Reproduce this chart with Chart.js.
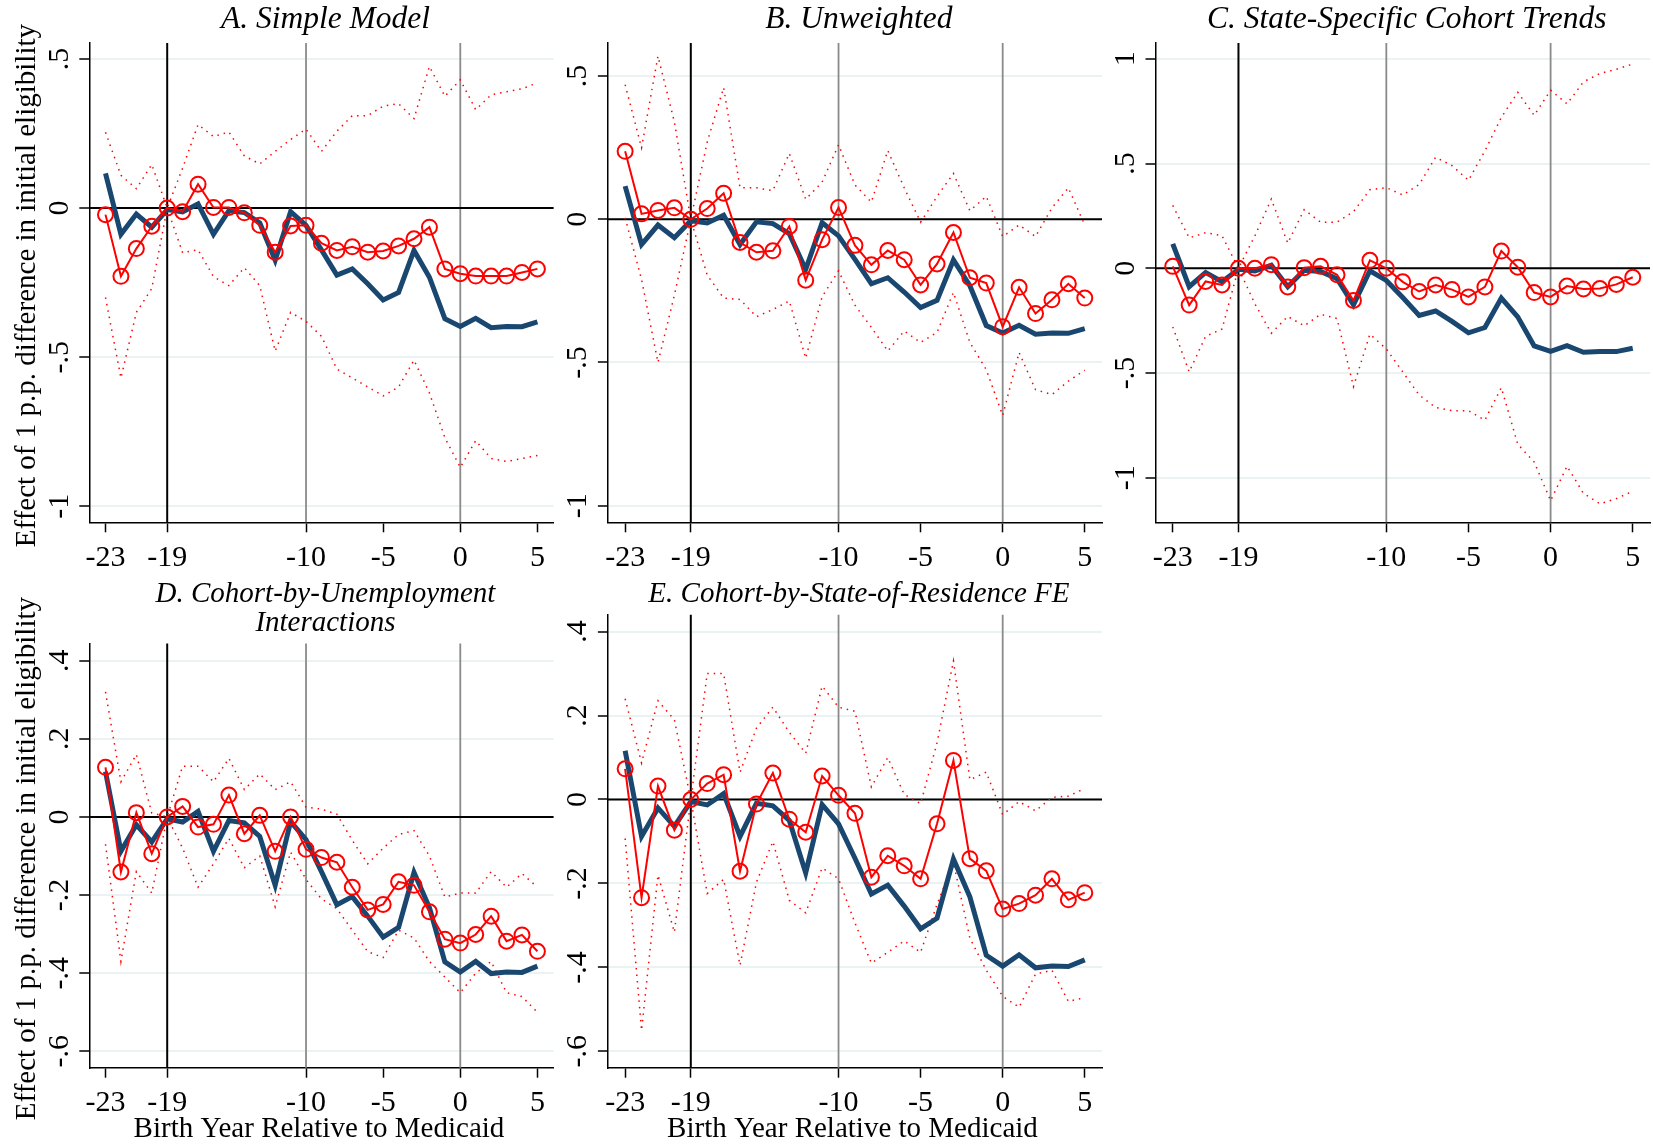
<!DOCTYPE html>
<html>
<head>
<meta charset="utf-8">
<script src="https://cdn.jsdelivr.net/npm/chart.js@4.4.1/dist/chart.umd.min.js"></script>
<style>
  body { margin: 0; background: #fff; }
  #page { position: relative; width: 1653px; height: 1146px; overflow: hidden; background: #fff; }
  #page canvas { position: absolute; }
</style>
</head>
<body>
<div id="page"></div>
<script>
// birth year relative to Medicaid
const years = [-23, -22, -21, -20, -19, -18, -17, -16, -15, -14, -13, -12, -11, -10, -9,
  -8, -7, -6, -5, -4, -3, -2, -1, 0, 1, 2, 3, 4, 5];
const xTickVals = [-23, -19, -10, -5, 0, 5];

// simple model estimates, shown in every panel (navy line)
const simpleModel = [0.116, -0.088, -0.02, -0.064, -0.005, -0.013, 0.014, -0.088, -0.009, -0.015,
  -0.05, -0.175, -0.012, -0.058, -0.14, -0.225, -0.204, -0.254, -0.308, -0.283, -0.142, -0.232,
  -0.371, -0.397, -0.37, -0.401, -0.397, -0.398, -0.382];

// A. Simple Model
const estA = [-0.022, -0.229, -0.136, -0.061, 0, -0.012, 0.08, 0.002, 0.002, -0.016, -0.058,
  -0.148, -0.06, -0.058, -0.118, -0.142, -0.13, -0.148, -0.144, -0.127, -0.103, -0.064, -0.204,
  -0.22, -0.228, -0.228, -0.228, -0.216, -0.204];
const hiA = [0.254, 0.11, 0.065, 0.146, 0, 0.134, 0.28, 0.24, 0.255, 0.175, 0.148, 0.19, 0.23,
  0.265, 0.19, 0.258, 0.31, 0.31, 0.342, 0.35, 0.3, 0.475, 0.375, 0.43, 0.33, 0.38, 0.39, 0.4, 0.42];
const loA = [-0.3, -0.57, -0.35, -0.27, 0, -0.15, -0.14, -0.23, -0.26, -0.2, -0.26, -0.48, -0.35,
  -0.38, -0.43, -0.54, -0.57, -0.6, -0.63, -0.6, -0.51, -0.62, -0.77, -0.87, -0.78, -0.84, -0.85,
  -0.84, -0.83];

// B. Unweighted
const estB = [0.2375, 0.019, 0.031, 0.04, 0, 0.0375, 0.091, -0.081, -0.115, -0.11, -0.025,
  -0.2125, -0.071, 0.041, -0.091, -0.159, -0.109, -0.141, -0.229, -0.156, -0.046, -0.204,
  -0.2225, -0.375, -0.2375, -0.329, -0.281, -0.225, -0.275];
const hiB = [0.47, 0.25, 0.57, 0.34, 0, 0.27, 0.46, 0.11, 0.11, 0.1, 0.23, 0.07, 0.13, 0.26, 0.12,
  0.06, 0.24, 0.11, -0.01, 0.08, 0.16, 0.03, 0.08, -0.06, -0.02, -0.06, 0.04, 0.11, -0.02];
const loB = [0.005, -0.21, -0.5, -0.265, 0, -0.195, -0.275, -0.28, -0.34, -0.315, -0.285, -0.485,
  -0.27, -0.18, -0.3, -0.377, -0.46, -0.39, -0.43, -0.395, -0.255, -0.43, -0.525, -0.685, -0.465,
  -0.595, -0.612, -0.565, -0.527];

// C. State-Specific Cohort Trends
const estC = [0.009, -0.176, -0.063, -0.08, 0, 0, 0.017, -0.089, 0.003, 0.009, -0.031, -0.154,
  0.038, 0, -0.065, -0.111, -0.08, -0.102, -0.137, -0.089, 0.082, 0.005, -0.116, -0.137, -0.085,
  -0.099, -0.097, -0.077, -0.043];
const hiC = [0.3, 0.145, 0.17, 0.155, 0, 0.155, 0.33, 0.12, 0.28, 0.22, 0.22, 0.27, 0.375, 0.385,
  0.35, 0.4, 0.53, 0.49, 0.42, 0.56, 0.72, 0.84, 0.73, 0.85, 0.785, 0.89, 0.93, 0.95, 0.975];
const loC = [-0.28, -0.495, -0.325, -0.29, 0, -0.17, -0.31, -0.23, -0.275, -0.22, -0.24, -0.565,
  -0.315, -0.385, -0.495, -0.605, -0.665, -0.68, -0.68, -0.725, -0.57, -0.84, -0.925, -1.11,
  -0.945, -1.075, -1.125, -1.1, -1.065];

// D. Cohort-by-Unemployment Interactions
const estD = [0.127, -0.141, 0.011, -0.094, 0, 0.027, -0.026, -0.019, 0.056, -0.043, 0.004,
  -0.088, 0, -0.083, -0.104, -0.116, -0.18, -0.238, -0.224, -0.166, -0.175, -0.243, -0.313,
  -0.323, -0.301, -0.254, -0.318, -0.302, -0.344];
const hiD = [0.32, 0.09, 0.16, 0.01, 0, 0.13, 0.13, 0.09, 0.15, 0.07, 0.11, 0.07, 0.09, 0.025,
  0.02, 0.007, -0.06, -0.12, -0.08, -0.045, -0.035, -0.1, -0.205, -0.195, -0.195, -0.14, -0.18,
  -0.145, -0.18];
const loD = [-0.07, -0.37, -0.14, -0.195, 0, -0.08, -0.18, -0.12, -0.055, -0.13, -0.1, -0.23,
  -0.09, -0.16, -0.21, -0.235, -0.29, -0.345, -0.36, -0.29, -0.31, -0.37, -0.41, -0.45, -0.4,
  -0.37, -0.45, -0.46, -0.5];

// E. Cohort-by-State-of-Residence FE
const estE = [0.073, -0.234, 0.032, -0.073, 0, 0.038, 0.059, -0.171, -0.011, 0.063, -0.047,
  -0.078, 0.056, 0.01, -0.033, -0.185, -0.134, -0.158, -0.189, -0.058, 0.093, -0.141, -0.17,
  -0.261, -0.248, -0.228, -0.189, -0.239, -0.222];
const hiE = [0.24, 0.087, 0.235, 0.19, 0, 0.3, 0.3, 0.065, 0.17, 0.22, 0.16, 0.11, 0.27, 0.22,
  0.21, 0.03, 0.1, 0.012, -0.01, 0.135, 0.33, 0.047, 0.065, -0.036, -0.005, -0.027, 0.005, 0.008,
  0.026];
const loE = [-0.093, -0.55, -0.18, -0.316, 0, -0.224, -0.19, -0.395, -0.197, -0.1, -0.24, -0.27,
  -0.163, -0.189, -0.294, -0.39, -0.364, -0.337, -0.364, -0.25, -0.15, -0.33, -0.407, -0.469,
  -0.495, -0.416, -0.407, -0.481, -0.472];

const yTitleText = "Effect of 1 p.p. difference in initial eligibility";
const xTitleText = "Birth Year Relative to Medicaid";

const SERIF = '"Liberation Serif", "Times New Roman", serif';
const NAVY = "#1a476f";
const RED = "#ff0000";

// box = canvas [left, top, w, h], plot = [left, top, right, bottom] in page pixels
const panels = [
  { title: ["A. Simple Model"], est: estA, hi: hiA, lo: loA,
    yTicks: [0.5, 0, -0.5, -1], yMin: -1.054, yMax: 0.554,
    box: [0, 0, 556, 580], plot: [89.3, 42.9, 553.6, 522.3], titleY: [28.3], titleSize: 31.5,
    yTitle: true, xTitle: false },
  { title: ["B. Unweighted"], est: estB, hi: hiB, lo: loB,
    yTicks: [0.5, 0, -0.5, -1], yMin: -1.058, yMax: 0.616,
    box: [556, 0, 548, 580], plot: [607.9, 42.9, 1102, 522.3], titleY: [28.3], titleSize: 31.5,
    yTitle: false, xTitle: false },
  { title: ["C. State-Specific Cohort Trends"], est: estC, hi: hiC, lo: loC,
    yTicks: [1, 0.5, 0, -0.5, -1], yMin: -1.213, yMax: 1.076,
    box: [1104, 0, 549, 580], plot: [1155.5, 42.9, 1650, 522.3], titleY: [28.3], titleSize: 31.5,
    yTitle: false, xTitle: false },
  { title: ["D. Cohort-by-Unemployment", "Interactions"], est: estD, hi: hiD, lo: loD,
    yTicks: [0.4, 0.2, 0, -0.2, -0.4, -0.6], yMin: -0.642, yMax: 0.444,
    box: [0, 575, 556, 571], plot: [89.3, 643.5, 553.6, 1067.7], titleY: [602, 631], titleSize: 29,
    yTitle: true, xTitle: true },
  { title: ["E. Cohort-by-State-of-Residence FE"], est: estE, hi: hiE, lo: loE,
    yTicks: [0.4, 0.2, 0, -0.2, -0.4, -0.6], yMin: -0.639, yMax: 0.44,
    box: [556, 575, 548, 571], plot: [607.9, 614.8, 1102, 1067.7], titleY: [602], titleSize: 29,
    yTitle: false, xTitle: true },
];

function fmt(v) {
  return v === 0 ? "0" : String(v).replace("0.", ".");
}

function pts(vals) {
  return years.map((x, i) => ({ x: x, y: vals[i] }));
}

const refLines = {
  id: "refLines",
  beforeDatasetsDraw(chart) {
    const ctx = chart.ctx, ca = chart.chartArea;
    const xs = chart.scales.x, ys = chart.scales.y;
    ctx.save();
    const vline = (v, color, w) => {
      const x = xs.getPixelForValue(v);
      ctx.strokeStyle = color;
      ctx.lineWidth = w;
      ctx.beginPath();
      ctx.moveTo(x, ca.top);
      ctx.lineTo(x, ca.bottom);
      ctx.stroke();
    };
    vline(-19, "#000", 2);
    vline(-10, "#8a8a8a", 1.8);
    vline(0, "#8a8a8a", 1.8);
    const y0 = ys.getPixelForValue(0);
    ctx.strokeStyle = "#000";
    ctx.lineWidth = 2;
    ctx.beginPath();
    ctx.moveTo(ca.left, y0);
    ctx.lineTo(ca.right, y0);
    ctx.stroke();
    ctx.restore();
  },
};

function textPlugin(p) {
  return {
    id: "texts",
    afterDraw(chart) {
      const ctx = chart.ctx, ca = chart.chartArea;
      const xs = chart.scales.x, ys = chart.scales.y;
      const [bx, by] = p.box;
      ctx.save();
      ctx.fillStyle = "#000";
      ctx.textBaseline = "alphabetic";
      ctx.textAlign = "center";

      ctx.font = "30px " + SERIF;
      xTickVals.forEach((v) => {
        ctx.fillText(String(v), xs.getPixelForValue(v), ca.bottom + 43.5);
      });
      p.yTicks.forEach((v) => {
        ctx.save();
        ctx.translate(ca.left - 21.5, ys.getPixelForValue(v));
        ctx.rotate(-Math.PI / 2);
        ctx.fillText(fmt(v), 0, 0);
        ctx.restore();
      });

      const cx = (ca.left + ca.right) / 2;
      ctx.font = "italic " + p.titleSize + "px " + SERIF;
      p.title.forEach((t, i) => ctx.fillText(t, cx + 4, p.titleY[i] - by));

      ctx.font = "29px " + SERIF;
      if (p.yTitle) {
        ctx.save();
        ctx.translate(35 - bx, (ca.top + ca.bottom) / 2 + 3);
        ctx.rotate(-Math.PI / 2);
        ctx.fillText(yTitleText, 0, 0);
        ctx.restore();
      }
      if (p.xTitle) {
        ctx.fillText(xTitleText, cx - 2.5, 1137 - by);
      }
      ctx.restore();
    },
  };
}

const page = document.getElementById("page");

panels.forEach((p) => {
  const [bx, by, bw, bh] = p.box;
  const [pl, pt, pr, pb] = p.plot;
  const cv = document.createElement("canvas");
  cv.width = bw;
  cv.height = bh;
  cv.style.left = bx + "px";
  cv.style.top = by + "px";
  cv.style.width = bw + "px";
  cv.style.height = bh + "px";
  page.appendChild(cv);

  new Chart(cv, {
    type: "line",
    data: {
      datasets: [
        {
          data: pts(p.est),
          borderColor: RED,
          borderWidth: 2,
          pointRadius: 7.5,
          pointBorderWidth: 2,
          pointBorderColor: RED,
          pointBackgroundColor: "rgba(0,0,0,0)",
          tension: 0,
          order: 0,
        },
        {
          data: pts(simpleModel),
          borderColor: NAVY,
          borderWidth: 5,
          pointRadius: 0,
          tension: 0,
          order: 1,
        },
        {
          data: pts(p.hi),
          borderColor: RED,
          borderWidth: 1.5,
          borderDash: [1.5, 5],
          pointRadius: 0,
          tension: 0,
          order: 2,
        },
        {
          data: pts(p.lo),
          borderColor: RED,
          borderWidth: 1.5,
          borderDash: [1.5, 5],
          pointRadius: 0,
          tension: 0,
          order: 2,
        },
      ],
    },
    options: {
      responsive: false,
      animation: false,
      events: [],
      layout: {
        autoPadding: false,
        padding: { left: 0, top: pt - by, right: bx + bw - pr, bottom: 0 },
      },
      plugins: { legend: { display: false }, tooltip: { enabled: false } },
      scales: {
        x: {
          type: "linear",
          min: -24.05,
          max: 6.05,
          afterBuildTicks: (s) => { s.ticks = xTickVals.map((v) => ({ value: v })); },
          afterFit: (s) => { s.height = by + bh - pb; },
          ticks: { display: false },
          grid: { drawOnChartArea: false, tickLength: 10, tickColor: "#000", tickWidth: 1.5 },
          border: { display: true, color: "#000", width: 1.5 },
        },
        y: {
          type: "linear",
          min: p.yMin,
          max: p.yMax,
          afterBuildTicks: (s) => { s.ticks = p.yTicks.map((v) => ({ value: v })); },
          afterFit: (s) => { s.width = pl - bx; },
          ticks: { display: false },
          grid: { color: "#eaf2f3", lineWidth: 2, tickLength: 10, tickColor: "#000", tickWidth: 1.5 },
          border: { display: true, color: "#000", width: 1.5 },
        },
      },
    },
    plugins: [refLines, textPlugin(p)],
  });
});
</script>
</body>
</html>
